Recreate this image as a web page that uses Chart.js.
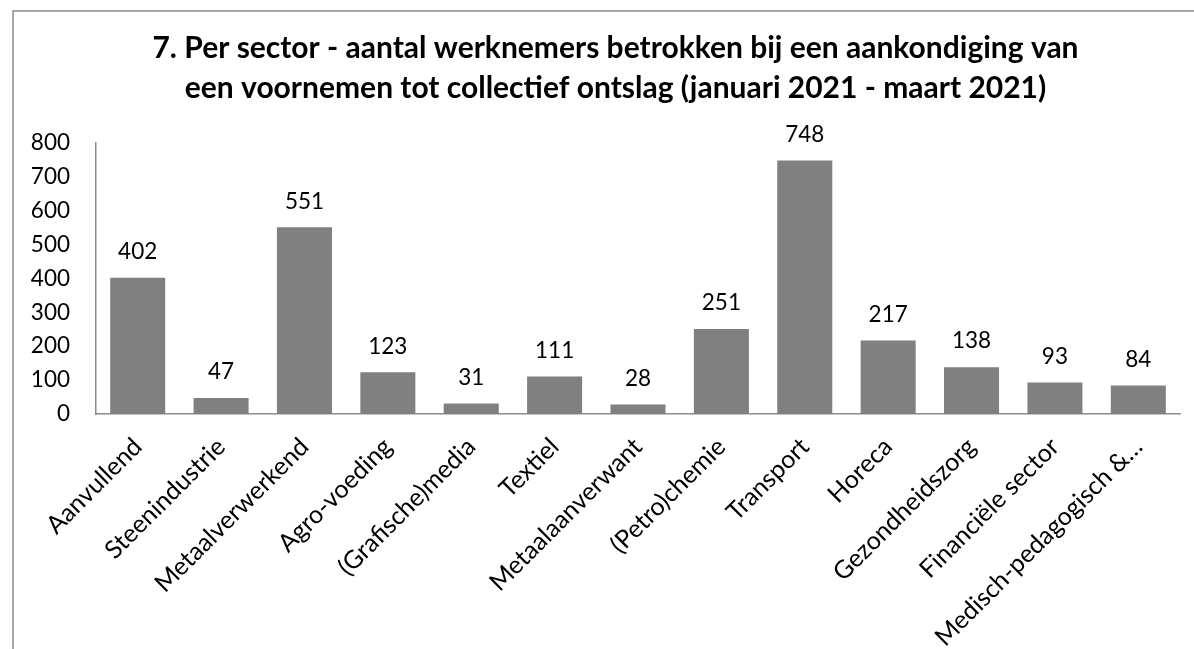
<!DOCTYPE html>
<html>
<head>
<meta charset="utf-8">
<title>Collectief ontslag per sector</title>
<script src="https://cdn.jsdelivr.net/npm/chart.js@4/dist/chart.umd.min.js"></script>
<style>
  html, body { margin: 0; padding: 0; background: #fff; overflow: hidden; }
  #wrap { position: absolute; left: 0; top: 0; width: 1218px; height: 649px; }
</style>
</head>
<body>
<div id="wrap"><canvas id="sectorChart" width="1218" height="649"></canvas></div>
<script>
// data
var sectors = ['Aanvullend', 'Steenindustrie', 'Metaalverwerkend', 'Agro-voeding',
    '(Grafische)media', 'Textiel', 'Metaalaanverwant', '(Petro)chemie', 'Transport',
    'Horeca', 'Gezondheidszorg', 'Financiële sector', 'Medisch-pedagogisch &…'];
var workers = [402, 47, 551, 123, 31, 111, 28, 251, 748, 217, 138, 93, 84];
var titleLines = ['7. Per sector - aantal werknemers betrokken bij een aankondiging van',
    'een voornemen tot collectief ontslag (januari 2021 - maart 2021)'];

var FONT = 'Lato';

// white background + the grey frame of the chart area (only left and top are in view)
var framePlugin = {
    id: 'frame',
    beforeDraw: function (chart) {
        var ctx = chart.ctx;
        ctx.save();
        ctx.fillStyle = '#ffffff';
        ctx.fillRect(0, 0, chart.width, chart.height);
        ctx.strokeStyle = '#8c8c8c';
        ctx.lineWidth = 1.5;
        ctx.beginPath();
        ctx.moveTo(13, chart.height);
        ctx.lineTo(13, 11);
        ctx.lineTo(chart.width, 11);
        ctx.stroke();
        ctx.restore();
    }
};

// value labels above each bar
var valueLabels = {
    id: 'valueLabels',
    afterDatasetsDraw: function (chart) {
        var ctx = chart.ctx;
        var meta = chart.getDatasetMeta(0);
        var values = chart.data.datasets[0].data;
        ctx.save();
        ctx.font = '22.5px ' + FONT;
        ctx.fillStyle = '#000';
        ctx.textAlign = 'center';
        ctx.textBaseline = 'middle';
        meta.data.forEach(function (bar, i) {
            ctx.fillText(values[i], bar.x, bar.y - 26);
        });
        ctx.restore();
    }
};

var ctx = document.getElementById('sectorChart');
var chart = new Chart(ctx, {
    type: 'bar',
    data: {
        labels: sectors,
        datasets: [{
            data: workers,
            backgroundColor: '#808080',
            borderWidth: 0,
            barPercentage: 0.66,
            categoryPercentage: 1.0
        }]
    },
    options: {
        responsive: false,
        animation: false,
        layout: { padding: { left: 13, top: 11, right: 0, bottom: 0 } },
        plugins: {
            legend: { display: false },
            tooltip: { enabled: false },
            title: {
                display: true,
                text: titleLines,
                color: '#000',
                font: { family: FONT, size: 30, weight: 'bold', lineHeight: 1.333 },
                padding: { top: 17, bottom: 35 }
            }
        },
        scales: {
            x: {
                grid: { display: false, drawTicks: false },
                border: { display: true, color: '#8c8c8c', width: 1.5 },
                ticks: {
                    color: '#000',
                    font: { family: FONT, size: 25 },
                    maxRotation: 45,
                    minRotation: 45,
                    autoSkip: false,
                    padding: 18
                },
                afterFit: function (s) { s.height = 649 - 414; }
            },
            y: {
                min: 0,
                max: 800,
                grid: { display: false, drawTicks: false },
                border: { display: true, color: '#8c8c8c', width: 1.5 },
                ticks: {
                    stepSize: 100,
                    color: '#000',
                    font: { family: FONT, size: 22.5 },
                    padding: 26
                },
                afterFit: function (s) { s.width = 96 - 13; }
            },
            yRight: {
                position: 'right',
                display: true,
                grid: { display: false, drawTicks: false },
                border: { display: false },
                ticks: { display: false },
                afterFit: function (s) { s.width = 38; }
            }
        }
    },
    plugins: [framePlugin, valueLabels]
});
</script>
</body>
</html>
